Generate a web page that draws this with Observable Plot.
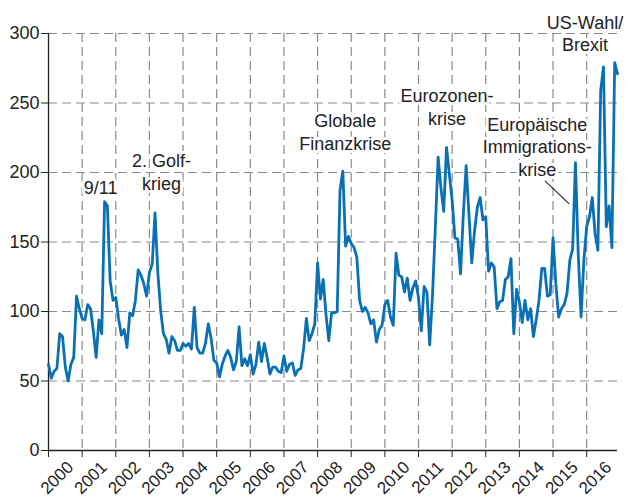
<!DOCTYPE html>
<html>
<head>
<meta charset="utf-8">
<script src="https://cdn.jsdelivr.net/npm/d3@7"></script>
<script src="https://cdn.jsdelivr.net/npm/@observablehq/plot@0.6"></script>
<style>
  html, body { margin: 0; padding: 0; background: #fff; }
  #chart { width: 629px; height: 500px; }
</style>
</head>
<body>
<div id="chart"></div>
<script>
// Monthly index values, Jan 2000 – Dec 2016
const startYear = 2000;
const values = [
  62, 52, 57, 59, 84, 82, 60, 50, 62, 67, 111, 102,      // 2000
  95, 94, 105, 102, 86, 67, 94, 84, 179, 176, 122, 108,  // 2001
  110, 95, 83, 87, 74, 99, 97, 108, 130, 126, 120, 111,  // 2002
  128, 134, 171, 128, 101, 84, 80, 70, 82, 79, 72, 72,   // 2003
  77, 75, 77, 73, 103, 74, 70, 70, 77, 91, 81, 65,       // 2004
  63, 53, 62, 68, 72, 67, 58, 64, 89, 61, 66, 61,        // 2005
  69, 55, 62, 78, 64, 77, 67, 55, 60, 60, 57, 56,        // 2006
  68, 57, 62, 63, 54, 58, 59, 73, 95, 79, 84, 91,        // 2007
  135, 109, 123, 98, 79, 99, 99, 100, 187, 201, 147, 154,// 2008
  149, 146, 139, 108, 100, 103, 99, 91, 94, 78, 87, 90,  // 2009
  105, 108, 96, 90, 142, 126, 125, 114, 124, 108, 117, 122, // 2010
  110, 86, 118, 114, 76, 112, 160, 211, 189, 172, 218, 199, // 2011
  180, 153, 152, 127, 170, 205, 170, 135, 158, 175, 182, 166, // 2012
  168, 129, 135, 132, 102, 107, 108, 123, 125, 138, 84, 116,  // 2013
  107, 92, 108, 94, 102, 82, 94, 108, 131, 131, 111, 112,     // 2014
  153, 120, 96, 102, 105, 113, 137, 145, 207, 141, 96, 137,   // 2015
  161, 168, 182, 156, 144, 259, 276, 161, 176, 146, 279, 271  // 2016
];
const yearTicks = [2000,2001,2002,2003,2004,2005,2006,2007,2008,2009,2010,2011,2012,2013,2014,2015,2016];
const yTicks = [0, 50, 100, 150, 200, 250, 300];

// Annotations (label, x in years, y in index units)
const noteLabels = ["9/11", "2. Golf-\nkrieg", "Globale\nFinanzkrise", "Eurozonen-\nkrise", "Europäische\nImmigrations-\nkrise", "US-Wahl/\nBrexit"];
const noteX = [2001.55, 2003.36, 2008.82, 2011.85, 2014.53, 2015.95];
const noteY = [189.5, 201, 229.5, 247.5, 219, 300.5];
// leader line for the immigration crisis label
const leaderX = [2014.76, 2015.48];
const leaderY = [194, 177.5];

const data = values.map((v, i) => ({t: startYear + i / 12, v}));
const notes = noteLabels.map((label, i) => ({label, x: noteX[i], y: noteY[i]}));

const font = "'Liberation Sans', Arial, Helvetica, sans-serif";
const gridStyle = {stroke: "#8a8a8a", strokeOpacity: 1, strokeWidth: 1.2, strokeDasharray: "9,5"};

const chart = Plot.plot({
  width: 629,
  height: 500,
  marginLeft: 48,
  marginRight: 12,
  marginTop: 33,
  marginBottom: 50,
  style: {fontFamily: font, fontSize: "18px", color: "#222", background: "#fff"},
  x: {domain: [2000, 2016 + 11 / 12]},
  y: {domain: [0, 300]},
  marks: [
    Plot.gridX(yearTicks.slice(1), gridStyle),
    Plot.gridY(yTicks.slice(1), gridStyle),
    Plot.axisY({ticks: yTicks, tickSize: 7, tickPadding: 2, fontSize: 18, label: null}),
    Plot.axisX({ticks: yearTicks, tickSize: 7, tickFormat: () => "", label: null}),
    Plot.text(yearTicks, {x: d => d, y: 0, text: d => String(d), rotate: -45, textAnchor: "end",
      dx: 22, dy: 14, fontSize: 17, fill: "#222"}),
    Plot.ruleY([0], {stroke: "#222", strokeWidth: 1.3}),
    Plot.ruleX([2000], {stroke: "#222", strokeWidth: 1.3}),
    Plot.text(notes, {x: "x", y: "y", text: "label", fontSize: 18, lineHeight: 1.25,
      fill: "#222", stroke: "white", strokeWidth: 6, textAnchor: "middle"}),
    Plot.link([0], {x1: () => leaderX[0], y1: () => leaderY[0], x2: () => leaderX[1], y2: () => leaderY[1],
      stroke: "#222", strokeWidth: 1.1}),
    Plot.line(data, {x: "t", y: "v", stroke: "#0a70b6", strokeWidth: 2.8, strokeLinejoin: "round"})
  ]
});
document.getElementById("chart").appendChild(chart);
</script>
</body>
</html>
